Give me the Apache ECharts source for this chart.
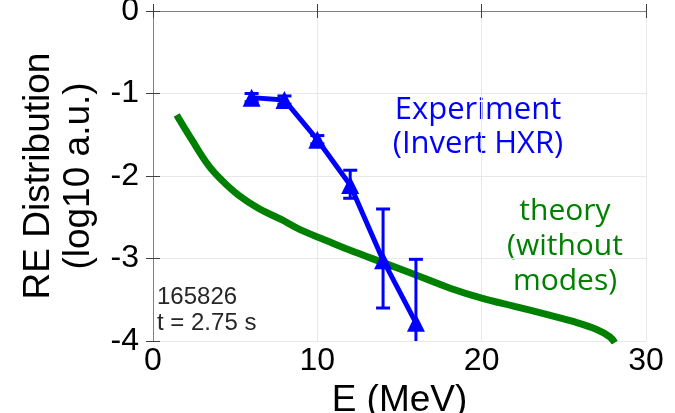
<!DOCTYPE html>
<html><head><meta charset="utf-8">
<script src="https://cdn.jsdelivr.net/npm/echarts@6/dist/echarts.min.js"></script>
<style>html,body{margin:0;padding:0;background:#fff}#c{width:675px;height:413px}</style>
</head><body><div id="c"></div>
<script>
const xTicks = [0, 10, 20, 30];
const yTicks = [-4, -3, -2, -1, 0];
const energy = [6, 8, 10, 12, 14, 16];
const expValue = [-1.05, -1.08, -1.56, -2.11, -3.02, -3.78];
const errLow = [-1.10, -1.13, -1.61, -2.27, -3.60, -4.30];
const errHigh = [-1.00, -1.03, -1.51, -1.93, -2.40, -3.01];
const theoryE = [1.44, 2.36, 3.37, 4.18, 5.19, 6.41, 7.83, 8.95, 10.77, 12, 14, 16, 18.08, 20, 22, 24, 25.5, 27, 27.8, 28.1];
const theoryV = [-1.26, -1.56, -1.87, -2.05, -2.23, -2.39, -2.53, -2.65, -2.80, -2.90, -3.05, -3.20, -3.36, -3.48, -3.58, -3.68, -3.76, -3.86, -3.95, -4.02];

const chart = echarts.init(document.getElementById('c'), null, {renderer: 'canvas'});
const tickFont = {fontFamily: 'Liberation Sans', fontSize: 32, color: '#000'};
const axisLineStyle = {lineStyle: {color: '#808080', width: 1}};
const splitLine = {show: true, lineStyle: {color: '#e8e8e8', width: 1}};
const option = {
  animation: false,
  grid: {left: 153, top: 11, right: 29, bottom: 72, containLabel: false, outerBoundsMode: 'none'},
  xAxis: [{
    type: 'value', min: 0, max: 30, interval: 10, position: 'bottom',
    name: 'E (MeV)', nameLocation: 'middle', nameGap: 31,
    nameTextStyle: {fontFamily: 'Liberation Sans', fontSize: 37, color: '#000'},
    axisLine: axisLineStyle,
    axisTick: {show: true, inside: true, length: 7, lineStyle: {color: '#404040'}},
    axisLabel: Object.assign({margin: 4}, tickFont),
    splitLine: splitLine
  }, {
    type: 'value', min: 0, max: 30, interval: 10, position: 'top',
    axisLine: axisLineStyle,
    axisTick: {show: true, inside: true, length: 7, lineStyle: {color: '#404040'}},
    axisLabel: {show: false}, splitLine: {show: false}
  }],
  yAxis: [{
    type: 'value', min: -4, max: 0, interval: 1, position: 'left',
    name: 'RE Distribution\n(log10 a.u.)', nameLocation: 'middle', nameGap: 54,
    nameTextStyle: {fontFamily: 'Liberation Sans', fontSize: 37, color: '#000', lineHeight: 40},
    axisLine: axisLineStyle,
    axisTick: {show: true, inside: true, length: 7, lineStyle: {color: '#404040'}},
    axisLabel: Object.assign({margin: 14}, tickFont),
    splitLine: splitLine
  }, {
    type: 'value', min: -4, max: 0, interval: 1, position: 'right',
    axisLine: axisLineStyle,
    axisTick: {show: true, inside: true, length: 7, lineStyle: {color: '#404040'}},
    axisLabel: {show: false}, splitLine: {show: false}
  }],
  graphic: [
    {type: 'text', left: 157, top: 284, style: {text: '165826\nt = 2.75 s', fontFamily: 'Liberation Sans', fontSize: 24, lineHeight: 26, fill: '#262626'}},
    {type: 'text', x: 478, y: 127, style: {text: 'Experiment\n(Invert HXR)', fontFamily: 'Open Sans', fontSize: 31, lineHeight: 34, fill: '#0000ff', align: 'center', verticalAlign: 'middle'}},
    {type: 'text', x: 565, y: 246, style: {text: 'theory\n(without\nmodes)', fontFamily: 'Open Sans', fontSize: 30, lineHeight: 35, fill: '#008000', align: 'center', verticalAlign: 'middle'}}
  ],
  series: [
    {
      type: 'line', data: theoryE.map((e, i) => [e, theoryV[i]]),
      smooth: 0.4, showSymbol: false, symbol: 'none', clip: true,
      lineStyle: {color: '#008000', width: 7, cap: 'butt'}, z: 2
    },
    {
      type: 'line', data: energy.map((e, i) => [e, expValue[i]]),
      symbol: 'triangle', symbolSize: 18, clip: true,
      itemStyle: {color: '#0000ff'},
      lineStyle: {color: '#0000ff', width: 5}, z: 4
    },
    {
      type: 'custom', clip: true, z: 3,
      data: energy.map((e, i) => [e, errLow[i], errHigh[i]]),
      renderItem: function (params, api) {
        const lo = api.coord([api.value(0), api.value(1)]);
        const hi = api.coord([api.value(0), api.value(2)]);
        const w = 7;
        const st = {stroke: '#0000ff', lineWidth: 3};
        return {type: 'group', children: [
          {type: 'line', shape: {x1: lo[0], y1: lo[1], x2: hi[0], y2: hi[1]}, style: st},
          {type: 'line', shape: {x1: lo[0] - w, y1: lo[1], x2: lo[0] + w, y2: lo[1]}, style: st},
          {type: 'line', shape: {x1: hi[0] - w, y1: hi[1], x2: hi[0] + w, y2: hi[1]}, style: st}
        ]};
      }
    }
  ]
};
chart.setOption(option);
</script></body></html>
